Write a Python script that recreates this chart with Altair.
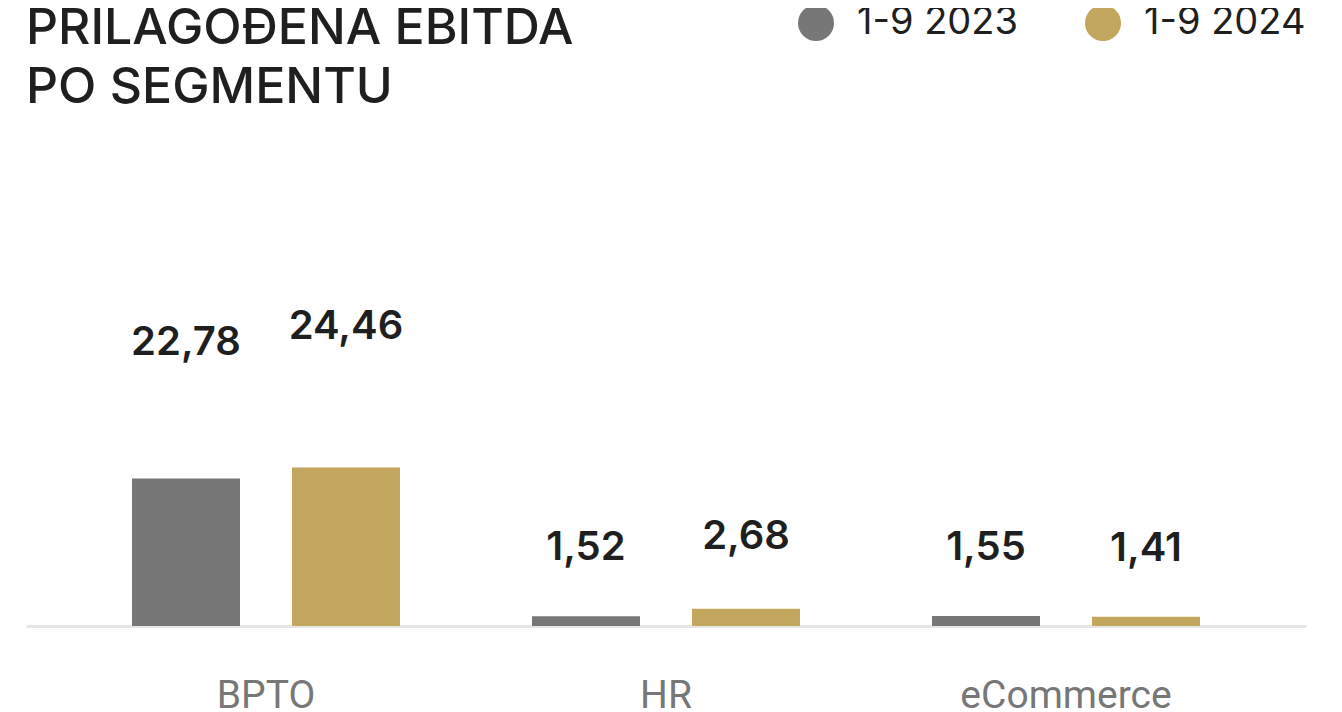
import altair as alt
import pandas as pd

segments = ["BPTO", "HR", "eCommerce"]
years = ["1-9 2023", "1-9 2024"]
values_2023 = [22.78, 1.52, 1.55]
values_2024 = [24.46, 2.68, 1.41]
colors = ["#777777", "#c2a65e"]

rows = []
for s, a, b in zip(segments, values_2023, values_2024):
    for y, v in zip(years, [a, b]):
        rows.append({"segment": s, "year": y, "value": v,
                     "label": f"{v:.2f}".replace(".", ",")})
df = pd.DataFrame(rows)

x = alt.X("segment:N", sort=segments, title=None,
          scale=alt.Scale(paddingInner=0, paddingOuter=0.1),
          axis=alt.Axis(labelAngle=0, labelFontSize=39, labelFont="Roboto",
                        labelColor="#777777", labelPadding=50, ticks=False,
                        labelLimit=0, domainColor="#e6e6e6", domainWidth=3))
xo = alt.XOffset("year:N", sort=years,
                 scale=alt.Scale(paddingInner=0.325, paddingOuter=0.4125))

base = alt.Chart(df)

bars = base.mark_bar().encode(
    x=x, xOffset=xo,
    y=alt.Y("value:Q", scale=alt.Scale(domain=[0, 75]), axis=None),
    color=alt.Color("year:N", sort=years,
                    scale=alt.Scale(domain=years, range=colors),
                    legend=alt.Legend(title=None, orient="none", legendX=771, legendY=-136,
                                      direction="horizontal", symbolType="circle",
                                      symbolSize=1296, symbolStrokeWidth=0,
                                      labelFontSize=38, labelFont="Inter",
                                      labelColor="#1f1f1f", labelOffset=22,
                                      columnPadding=66, labelLimit=0, padding=0,
                                      symbolOpacity=1)),
)

texts = base.mark_text(font="Inter", fontSize=40, fontWeight=600, color="#1f1f1f",
                       baseline="middle", dy=-63).encode(
    x=x, xOffset=xo,
    y=alt.Y("value:Q", scale=alt.Scale(domain=[0, 50.3]), axis=None),
    text="label:N",
)

chart = alt.layer(bars, texts).resolve_scale(y="independent").properties(
    width=1280, height=486,
    title=alt.TitleParams(["PRILAGOĐENA EBITDA", "PO SEGMENTU"], anchor="start",
                          fontSize=50, font="Inter", fontWeight=500,
                          color="#1f1f1f", lineHeight=59, offset=26, dy=135),
    autosize=alt.AutoSizeParams(type="none"),
    padding={"left": 18, "top": 132, "right": 20, "bottom": 100},
).configure(background="white").configure_view(stroke=None)

chart.save("out.html", embed_options={"renderer": "svg", "actions": False})
